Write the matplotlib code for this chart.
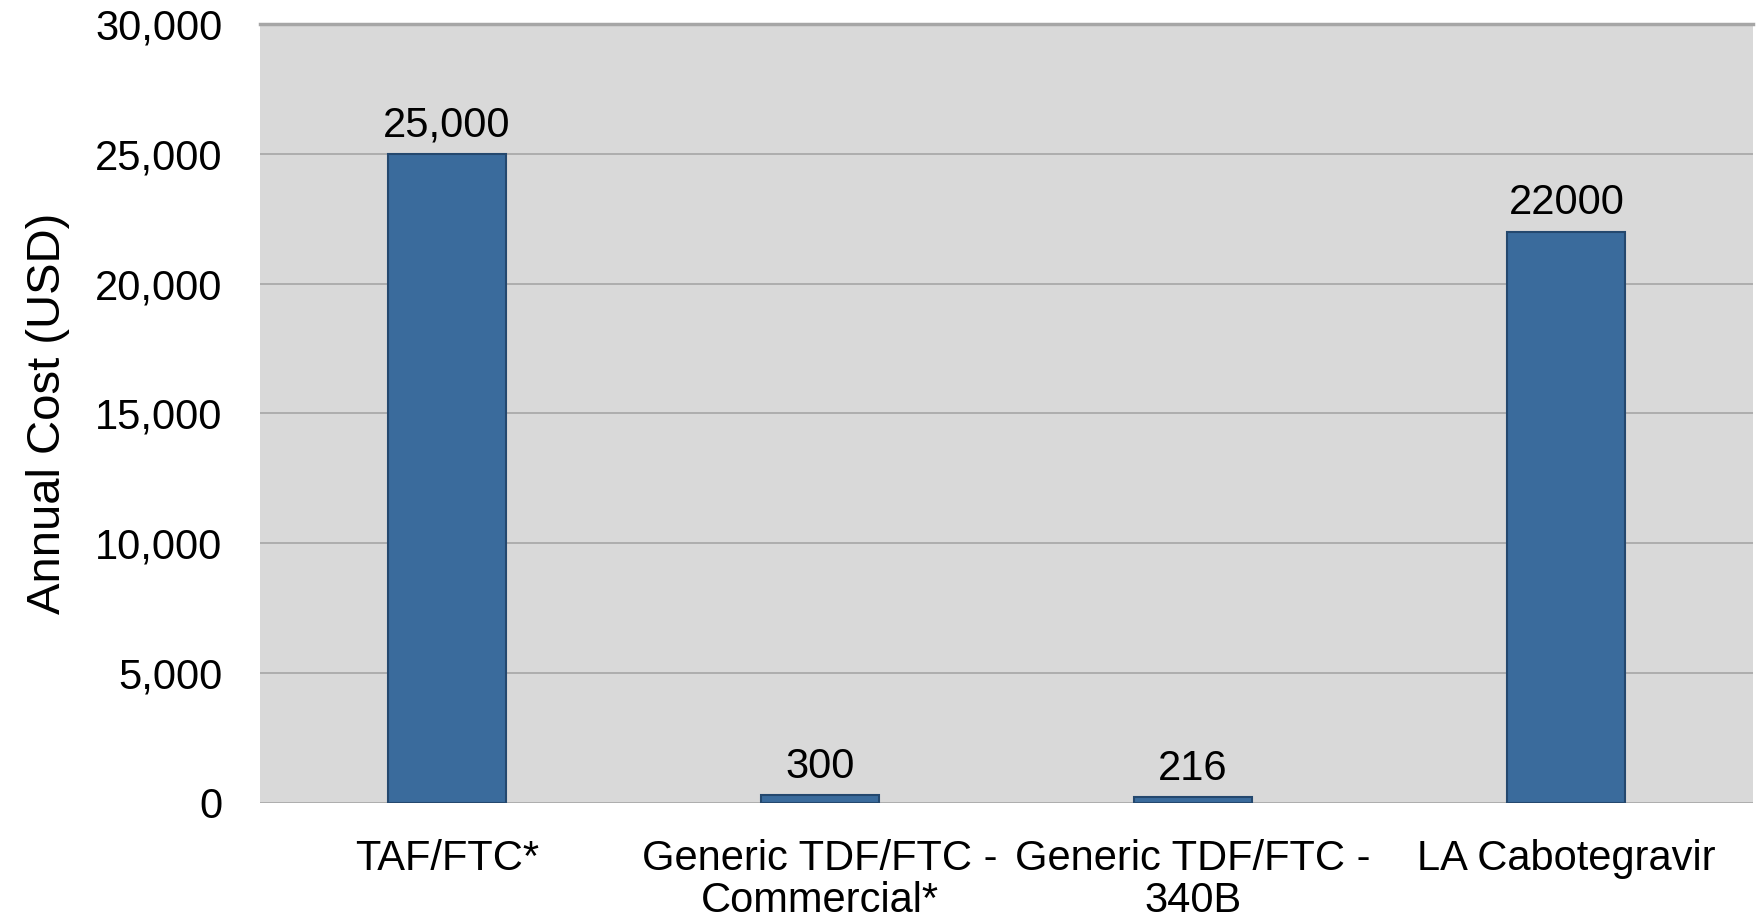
import matplotlib
matplotlib.use("Agg")
import matplotlib.pyplot as plt
from matplotlib.ticker import FuncFormatter

categories = ["TAF/FTC*", "Generic TDF/FTC -\nCommercial*", "Generic TDF/FTC -\n340B", "LA Cabotegravir"]
values = [25000, 300, 216, 22000]
labels = ["25,000", "300", "216", "22000"]
yticks = [0, 5000, 10000, 15000, 20000, 25000, 30000]

plt.rcParams['font.family'] = ['Liberation Sans', 'DejaVu Sans']

fig = plt.figure(figsize=(17.62, 9.22), dpi=100)
ax = fig.add_axes([260/1762, 1 - 803/922, (1753-260)/1762, (803-24)/922])
ax.set_facecolor("#D9D9D9")

x = list(range(len(categories)))
bars = ax.bar(x, values, width=0.316, color="#3A6B9C", edgecolor="#24486E", linewidth=1.5, zorder=3)

for xi, v, lab in zip(x, values, labels):
    ax.annotate(lab, (xi, v), xytext=(0, 6), textcoords="offset points",
                ha="center", va="bottom", fontsize=30, color="black")

ax.set_xlim(-0.5, len(categories) - 0.5)
ax.set_ylim(0, 30000)
ax.set_yticks(yticks)
ax.yaxis.set_major_formatter(FuncFormatter(lambda v, p: f"{int(v):,}"))
ax.grid(axis="y", color="#A6A6A6", linewidth=1.2, zorder=0)
ax.set_axisbelow(True)
for s in ["left", "right", "bottom"]:
    ax.spines[s].set_visible(False)
ax.spines["top"].set_color("#A6A6A6")
ax.spines["top"].set_linewidth(2.5)

ax.set_xticks(x)
ax.set_xticklabels(categories, fontsize=30, linespacing=1.05)
ax.tick_params(axis="x", length=0, pad=26)
ax.tick_params(axis="y", length=0, pad=27, labelsize=30)
ax.set_ylabel("Annual Cost (USD)", fontsize=34, labelpad=18)

fig.savefig("out.png", dpi=100)
